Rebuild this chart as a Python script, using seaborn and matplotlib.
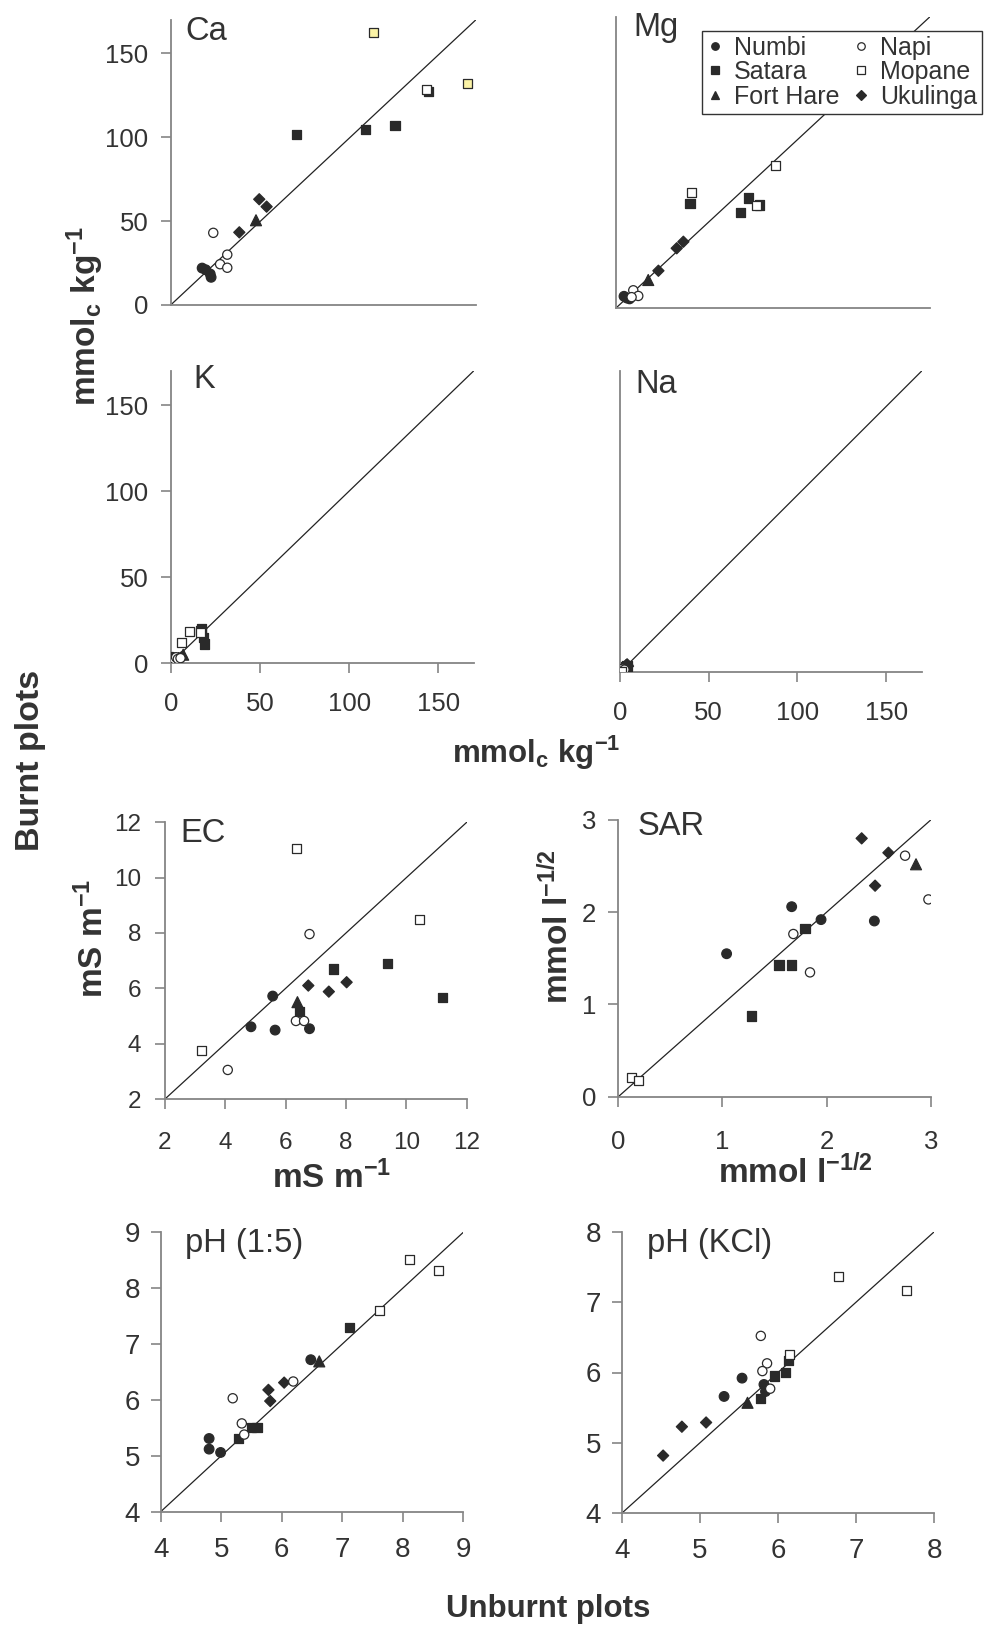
import matplotlib
matplotlib.use("Agg")
import matplotlib.pyplot as plt
import seaborn as sns
import pandas as pd
from matplotlib.lines import Line2D

# ---------------- data (unburnt = x, burnt = y) ----------------
CA_SITE = ["Numbi", "Numbi", "Numbi", "Numbi", "Satara", "Satara", "Satara", "Satara",
           "Ukulinga", "Ukulinga", "Ukulinga", "Fort Hare", "Napi", "Napi", "Napi", "Napi",
           "Mopane", "Mopane", "Mopane"]
CA_UNBURNT = [17.5, 19.5, 22.0, 22.5, 70.0, 108.6, 124.9, 143.4,
              49.3, 53.4, 38.2, 47.5, 23.7, 31.5, 27.5, 31.5,
              142.2, 112.8, 165.4]
CA_BURNT = [22.0, 21.0, 18.5, 16.5, 101.5, 104.7, 107.0, 127.0,
            63.0, 58.6, 43.3, 50.5, 43.0, 30.0, 24.3, 22.2,
            128.5, 162.3, 131.7]
CA_HIGHLIGHT = [False] * 17 + [True, True]

MG_SITE = ["Numbi", "Numbi", "Numbi", "Satara", "Satara", "Satara", "Satara",
           "Ukulinga", "Ukulinga", "Ukulinga", "Fort Hare", "Napi", "Napi", "Napi",
           "Mopane", "Mopane", "Mopane"]
MG_UNBURNT = [4.5, 6.0, 7.5, 40.2, 71.7, 67.6, 77.7, 36.6, 33.0, 23.1, 17.6,
              9.5, 12.2, 8.6, 86.2, 40.9, 76.0]
MG_BURNT = [7.0, 6.0, 5.5, 61.0, 64.3, 55.8, 60.2, 38.8, 35.0, 21.9, 16.5,
            10.5, 7.2, 6.5, 83.1, 67.4, 59.7]

K_SITE = ["Numbi", "Numbi", "Numbi", "Numbi", "Satara", "Satara", "Satara", "Satara",
          "Ukulinga", "Ukulinga", "Ukulinga", "Fort Hare", "Napi", "Napi", "Napi", "Napi",
          "Mopane", "Mopane", "Mopane"]
K_UNBURNT = [1.0, 2.5, 3.5, 5.0, 17.4, 18.9, 18.3, 17.0, 3.0, 4.5, 6.0, 7.0,
             2.0, 3.0, 4.0, 5.5, 6.2, 10.5, 16.6]
K_BURNT = [3.5, 3.0, 3.0, 3.0, 20.2, 11.2, 15.0, 19.0, 2.0, 3.0, 3.5, 5.0,
           2.5, 3.5, 2.5, 3.0, 12.2, 18.4, 17.6]

NA_SITE = ["Numbi", "Numbi", "Satara", "Satara", "Ukulinga", "Ukulinga", "Ukulinga",
           "Fort Hare", "Napi", "Napi", "Mopane", "Mopane"]
NA_UNBURNT = [2.0, 3.0, 3.0, 4.0, 4.0, 4.5, 3.5, 3.5, 1.5, 2.5, 0.5, 1.0]
NA_BURNT = [1.5, 2.5, 3.0, 3.5, 4.5, 3.5, 4.0, 3.0, 2.0, 1.5, 0.6, 0.3]

EC_SITE = ["Numbi", "Numbi", "Numbi", "Numbi", "Satara", "Satara", "Satara", "Satara",
           "Ukulinga", "Ukulinga", "Ukulinga", "Fort Hare", "Napi", "Napi", "Napi", "Napi",
           "Mopane", "Mopane", "Mopane"]
EC_UNBURNT = [4.85, 5.57, 5.65, 6.79, 7.58, 9.38, 11.20, 6.45, 6.75, 7.43, 8.02, 6.39,
              6.79, 4.08, 6.34, 6.61, 6.37, 10.45, 3.22]
EC_BURNT = [4.61, 5.72, 4.49, 4.54, 6.70, 6.90, 5.66, 5.16, 6.10, 5.88, 6.22, 5.50,
            7.96, 3.05, 4.82, 4.82, 11.06, 8.49, 3.75]

SAR_SITE = ["Numbi", "Numbi", "Numbi", "Numbi", "Satara", "Satara", "Satara", "Satara",
            "Ukulinga", "Ukulinga", "Ukulinga", "Fort Hare", "Napi", "Napi", "Napi", "Napi",
            "Mopane", "Mopane"]
SAR_UNBURNT = [1.04, 1.665, 1.947, 2.459, 1.281, 1.543, 1.665, 1.793, 2.337, 2.594, 2.466,
               2.859, 1.681, 1.841, 2.754, 2.978, 0.128, 0.192]
SAR_BURNT = [1.55, 2.06, 1.92, 1.905, 0.875, 1.428, 1.428, 1.825, 2.801, 2.645, 2.288,
             2.52, 1.764, 1.348, 2.613, 2.139, 0.21, 0.181]

PH1_SITE = ["Numbi", "Numbi", "Numbi", "Numbi", "Satara", "Satara", "Satara", "Satara",
            "Ukulinga", "Ukulinga", "Ukulinga", "Fort Hare", "Napi", "Napi", "Napi", "Napi",
            "Mopane", "Mopane", "Mopane"]
PH1_UNBURNT = [6.48, 4.80, 4.80, 4.99, 7.12, 5.28, 5.50, 5.59, 6.04, 5.78, 5.81, 6.62,
               6.19, 5.19, 5.34, 5.38, 8.11, 8.59, 7.62]
PH1_BURNT = [6.72, 5.31, 5.12, 5.06, 7.30, 5.31, 5.51, 5.51, 6.31, 6.18, 5.98, 6.69,
             6.33, 6.03, 5.58, 5.38, 8.51, 8.31, 7.60]

PHK_SITE = ["Numbi", "Numbi", "Numbi", "Numbi", "Satara", "Satara", "Satara", "Satara",
            "Ukulinga", "Ukulinga", "Ukulinga", "Fort Hare", "Napi", "Napi", "Napi", "Napi",
            "Mopane", "Mopane", "Mopane"]
PHK_UNBURNT = [5.54, 5.31, 5.82, 5.84, 6.13, 6.10, 5.96, 5.78, 4.53, 4.77, 5.08, 5.61,
               5.78, 5.86, 5.80, 5.90, 6.78, 7.65, 6.15]
PHK_BURNT = [5.92, 5.66, 5.83, 5.73, 6.17, 6.00, 5.95, 5.63, 4.82, 5.23, 5.29, 5.57,
             6.52, 6.13, 6.02, 5.77, 7.37, 7.16, 6.26]

LEGEND_ORDER = ["Numbi", "Satara", "Fort Hare", "Napi", "Mopane", "Ukulinga"]

# ---------------- styling ----------------
W, H = 987, 1625
DARK = "#2a2a2a"
YELLOW = "#fbf3a6"
SPINE = "#858585"
TXT = "#333333"
MARKERS = {"Numbi": "o", "Satara": "s", "Fort Hare": "^", "Napi": "o",
           "Mopane": "s", "Ukulinga": "D"}
FILL = {"Numbi": DARK, "Satara": DARK, "Fort Hare": DARK, "Napi": "white",
        "Mopane": "white", "Ukulinga": DARK, "highlight": YELLOW}
SIZES = {"Numbi": 48, "Satara": 44, "Fort Hare": 62, "Napi": 44,
         "Mopane": 42, "Ukulinga": 32}

sns.set_theme(style="white")
plt.rcParams["font.family"] = ["Liberation Sans", "DejaVu Sans"]
plt.rcParams["mathtext.fontset"] = "custom"
plt.rcParams["mathtext.rm"] = "Liberation Sans"
plt.rcParams["mathtext.bf"] = "Liberation Sans:bold"
plt.rcParams["mathtext.it"] = "Liberation Sans:italic"

fig = plt.figure(figsize=(W / 100, H / 100), dpi=100)


def rect(l, t, r, b):
    return [l / W, 1 - b / H, (r - l) / W, (b - t) / H]


def panel(box, site, xs, ys, lim, ticks, title, tpos, xlab=True, ylab=True,
          xtick=True, ytick=True, fs=18.5, xpad=12, ypad=9, highlight=None):
    ax = fig.add_axes(rect(*box))
    hl = highlight if highlight is not None else [False] * len(site)
    df = pd.DataFrame({"site": site, "unburnt": xs, "burnt": ys,
                       "fill": [("highlight" if h else s) for s, h in zip(site, hl)]})
    ax.axline((lim[0], lim[0]), slope=1, color="#222222", lw=0.9, zorder=1)
    sns.scatterplot(data=df, x="unburnt", y="burnt", hue="fill", style="site",
                    size="site", palette=FILL, markers=MARKERS, sizes=SIZES,
                    edgecolor=DARK, linewidth=0.9, legend=False, ax=ax, zorder=3)
    ax.set_xlim(lim)
    ax.set_ylim(lim)
    ax.set_xlabel("")
    ax.set_ylabel("")
    for s in ["top", "right"]:
        ax.spines[s].set_visible(False)
    for s in ["left", "bottom"]:
        ax.spines[s].set_color(SPINE)
        ax.spines[s].set_linewidth(1.3)
    ax.set_xticks(ticks if xtick else [])
    ax.set_yticks(ticks if ytick else [])
    if not xlab:
        ax.set_xticklabels([])
    if not ylab:
        ax.set_yticklabels([])
    ax.tick_params(axis="x", direction="out", length=7, width=1.2, color=SPINE,
                   labelsize=fs, labelcolor=TXT, pad=xpad, bottom=True)
    ax.tick_params(axis="y", direction="out", length=7, width=1.2, color=SPINE,
                   labelsize=fs, labelcolor=TXT, pad=ypad, left=True)
    ax.patch.set_alpha(0)
    fig.text(tpos[0] / W, 1 - tpos[1] / H, title, fontsize=23.5, color=TXT,
             ha="left", va="baseline")
    return ax


big = (0, 170)
big_t = [0, 50, 100, 150]
panel((170.7, 19.7, 476, 305), CA_SITE, CA_UNBURNT, CA_BURNT, big, big_t, "Ca", (185, 40),
      xtick=False, highlight=CA_HIGHLIGHT)
panel((615.7, 16.7, 930, 308.3), MG_SITE, MG_UNBURNT, MG_BURNT, big, big_t, "Mg", (633, 36),
      xtick=False, ytick=False)
panel((170.7, 370.6, 474, 663.3), K_SITE, K_UNBURNT, K_BURNT, big, big_t, "K", (193, 388),
      xpad=14)
panel((620, 371, 921.7, 672.3), NA_SITE, NA_UNBURNT, NA_BURNT, big, big_t, "Na", (635, 393),
      ytick=False, xpad=14)
panel((165, 822.3, 466.7, 1099), EC_SITE, EC_UNBURNT, EC_BURNT, (2, 12), [2, 4, 6, 8, 10, 12],
      "EC", (180, 842), fs=17.5, xpad=17, ypad=10)
panel((618.3, 820, 930.7, 1096.7), SAR_SITE, SAR_UNBURNT, SAR_BURNT, (0, 3), [0, 1, 2, 3],
      "SAR", (638, 835), fs=18.5, xpad=17, ypad=9)
panel((160.7, 1232.3, 463.3, 1511.7), PH1_SITE, PH1_UNBURNT, PH1_BURNT, (4, 9),
      [4, 5, 6, 7, 8, 9], "pH (1:5)", (185, 1252), fs=20, xpad=11, ypad=8)
panel((621.7, 1231.7, 934.3, 1513.3), PHK_SITE, PHK_UNBURNT, PHK_BURNT, (4, 8),
      [4, 5, 6, 7, 8], "pH (KCl)", (647, 1252), fs=20, xpad=11, ypad=8)

# legend
handles = [Line2D([], [], linestyle="", marker=MARKERS[s], markersize=(5.4 if s != "Ukulinga" else 4.6),
                  markerfacecolor=FILL[s], markeredgecolor=DARK, markeredgewidth=0.9)
           for s in LEGEND_ORDER]
leg = fig.legend(handles, LEGEND_ORDER, ncol=2, loc="upper left",
                 bbox_to_anchor=(701.7 / W, 1 - 30.7 / H), frameon=True, fancybox=False,
                 edgecolor="#333333", framealpha=1, fontsize=18, handlelength=0.7,
                 handletextpad=0.4, columnspacing=0.5, labelspacing=0.02,
                 borderpad=0.2, borderaxespad=0)
leg.get_frame().set_linewidth(1.0)
for t in leg.get_texts():
    t.set_color(TXT)

# axis labels
lab = dict(color=TXT, ha="center")
fig.text(85 / W, 1 - 316 / H, r"$\mathbf{mmol_c\ kg^{-1}}$", rotation=90, fontsize=24,
         va="center", **lab)
fig.text(536 / W, 1 - 763 / H, r"$\mathbf{mmol_c\ kg^{-1}}$", fontsize=22.5,
         va="baseline", **lab)
fig.text(93 / W, 1 - 938 / H, r"$\mathbf{mS\ m^{-1}}$", rotation=90, fontsize=24,
         va="center", **lab)
fig.text(332 / W, 1 - 1188 / H, r"$\mathbf{mS\ m^{-1}}$", fontsize=24,
         va="baseline", **lab)
fig.text(557 / W, 1 - 927 / H, r"$\mathbf{mmol\ l^{-1/2}}$", rotation=90, fontsize=24,
         va="center", **lab)
fig.text(795 / W, 1 - 1183 / H, r"$\mathbf{mmol\ l^{-1/2}}$", fontsize=24,
         va="baseline", **lab)
fig.text(31 / W, 1 - 760 / H, "Burnt plots", rotation=90, fontsize=24.5,
         fontweight="bold", color=TXT, ha="center", va="center")
fig.text(548 / W, 1 - 1609 / H, "Unburnt plots", fontsize=22.5,
         fontweight="bold", color=TXT, ha="center", va="center")

fig.savefig("out.png", dpi=100, facecolor="white")
